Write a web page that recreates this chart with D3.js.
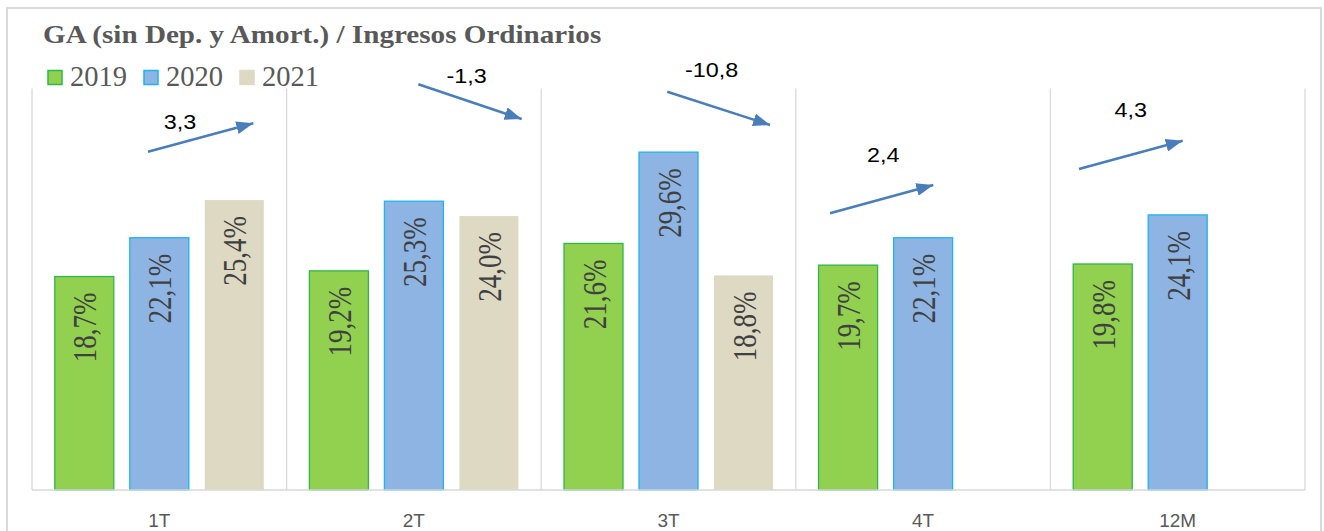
<!DOCTYPE html>
<html>
<head>
<meta charset="utf-8">
<script src="https://cdn.jsdelivr.net/npm/d3@7"></script>
<style>
  html, body { margin: 0; padding: 0; background: #fff; }
  svg { display: block; }
</style>
</head>
<body>
<svg id="chart" width="1324" height="531"></svg>
<script>
// ---- data ----
const categories = ["1T", "2T", "3T", "4T", "12M"];
const seriesNames = ["2019", "2020", "2021"];
const values2019 = [18.7, 19.2, 21.6, 19.7, 19.8];
const values2020 = [22.1, 25.3, 29.6, 22.1, 24.1];
const values2021 = [25.4, 24.0, 18.8, null, null];
const deltaLabels = ["3,3", "-1,3", "-10,8", "2,4", "4,3"];
const yDomain = [0, 35];
const titleText = "GA (sin Dep. y Amort.) / Ingresos Ordinarios";

// ---- styles / layout ----
const fills = { "2019": "#92D050", "2020": "#8EB4E3", "2021": "#DDD9C3" };
const strokes = { "2019": "#2DB84B", "2020": "#1DB4F0", "2021": "none" };
const gridColor = "#D9D9D9";
const arrowColor = "#4A7EBB";
// arrow layout: offsets (px) relative to each category band start
const arrowLayout = [
  { x1: 116, y1: 151.7, x2: 221.3, y2: 123.3, tx: 148, ty: 129.3 },
  { x1: 131.7, y1: 84.3, x2: 235.1, y2: 119, tx: 180, ty: 83.3 },
  { x1: 126.1, y1: 91.7, x2: 228.8, y2: 125, tx: 170.5, ty: 76.7 },
  { x1: 34.2, y1: 213.3, x2: 137.5, y2: 185, tx: 87.5, ty: 161.7 },
  { x1: 28.6, y1: 169, x2: 132.3, y2: 140.7, tx: 80.3, ty: 116.7 }
];

const svg = d3.select("#chart");
const plot = { left: 32, right: 1305, top: 90.5, bottom: 490 };

const x = d3.scaleBand().domain(categories).range([plot.left, plot.right]).paddingInner(0).paddingOuter(0);
const xs = d3.scaleBand().domain(seriesNames).range([0, x.bandwidth()]).paddingInner(16 / 75).paddingOuter(0.304);
const y = d3.scaleLinear().domain(yDomain).range([plot.bottom, plot.top]);

// outer border
svg.append("rect").attr("x", 7).attr("y", 8).attr("width", 1314).attr("height", 540)
  .attr("fill", "none").attr("stroke", gridColor).attr("stroke-width", 2);

// title
svg.append("text")
  .attr("transform", "translate(43,43) scale(1.12,1)")
  .attr("font-family", "'Liberation Serif', 'Times New Roman', serif")
  .attr("font-weight", "bold").attr("font-size", 26).attr("fill", "#595959")
  .text(titleText);

// legend
const legendX = [48, 144, 240];
seriesNames.forEach((s, i) => {
  svg.append("rect").attr("x", legendX[i]).attr("y", 70.5).attr("width", 14).attr("height", 14)
    .attr("fill", fills[s]).attr("stroke", strokes[s] === "none" ? fills[s] : strokes[s]).attr("stroke-width", 1.5);
  svg.append("text").attr("x", legendX[i] + 22).attr("y", 86)
    .attr("font-family", "'Liberation Serif', 'Times New Roman', serif")
    .attr("font-size", 28.5).attr("fill", "#595959").text(s);
});

// category separators (gridlines on category axis)
const boundaries = categories.map(c => x(c)).concat([plot.right]);
svg.append("g").selectAll("line").data(boundaries).join("line")
  .attr("x1", d => d).attr("x2", d => d)
  .attr("y1", y(yDomain[1]) - 2).attr("y2", plot.bottom)
  .attr("stroke", gridColor).attr("stroke-width", 1.3);

// bars
const rows = [];
categories.forEach((c, i) => {
  [values2019[i], values2020[i], values2021[i]].forEach((v, j) => {
    if (v != null) rows.push({ cat: c, series: seriesNames[j], value: v });
  });
});

svg.append("g").selectAll("rect").data(rows).join("rect")
  .attr("x", d => x(d.cat) + xs(d.series))
  .attr("y", d => y(d.value))
  .attr("width", xs.bandwidth())
  .attr("height", d => y(0) - y(d.value))
  .attr("fill", d => fills[d.series])
  .attr("stroke", d => strokes[d.series])
  .attr("stroke-width", 1.3);

// bar labels (rotated)
svg.append("g").selectAll("text").data(rows).join("text")
  .attr("transform", d => {
    const cx = x(d.cat) + xs(d.series) + xs.bandwidth() / 2 + 12;
    return `translate(${cx},${y(d.value) + 16}) scale(1.22,1) rotate(-90)`;
  })
  .attr("text-anchor", "end")
  .attr("font-family", "'Liberation Serif', 'Times New Roman', serif")
  .attr("font-size", 27).attr("fill", "#404040")
  .text(d => d.value.toFixed(1).replace(".", ",") + "%");

// x axis baseline
svg.append("line").attr("x1", plot.left).attr("x2", plot.right)
  .attr("y1", plot.bottom).attr("y2", plot.bottom)
  .attr("stroke", gridColor).attr("stroke-width", 1.5);

// x axis labels
const xAxis = d3.axisBottom(x).tickSize(0).tickPadding(0);
const gx = svg.append("g").attr("transform", `translate(0,${plot.bottom})`).call(xAxis);
gx.select(".domain").remove();
gx.selectAll("text")
  .attr("y", 37).attr("dy", 0)
  .attr("font-family", "'Liberation Sans', Arial, sans-serif")
  .attr("font-size", 19).attr("fill", "#595959");

// arrows
const defs = svg.append("defs");
defs.append("marker").attr("id", "arrowhead")
  .attr("viewBox", "0 0 17 13").attr("refX", 17).attr("refY", 6.5)
  .attr("markerWidth", 17).attr("markerHeight", 13)
  .attr("markerUnits", "userSpaceOnUse").attr("orient", "auto")
  .append("path").attr("d", "M0,0 L17,6.5 L0,13 Z").attr("fill", arrowColor);

const ag = svg.append("g");
categories.forEach((c, i) => {
  const a = arrowLayout[i];
  const bx = x(c);
  ag.append("line")
    .attr("x1", bx + a.x1).attr("y1", a.y1)
    .attr("x2", bx + a.x2).attr("y2", a.y2)
    .attr("stroke", arrowColor).attr("stroke-width", 2.5)
    .attr("marker-end", "url(#arrowhead)");
  ag.append("text")
    .attr("transform", `translate(${bx + a.tx},${a.ty}) scale(1.14,1)`)
    .attr("text-anchor", "middle")
    .attr("font-family", "'Liberation Sans', Arial, sans-serif")
    .attr("font-size", 20.5).attr("fill", "#000")
    .text(deltaLabels[i]);
});
</script>
</body>
</html>
